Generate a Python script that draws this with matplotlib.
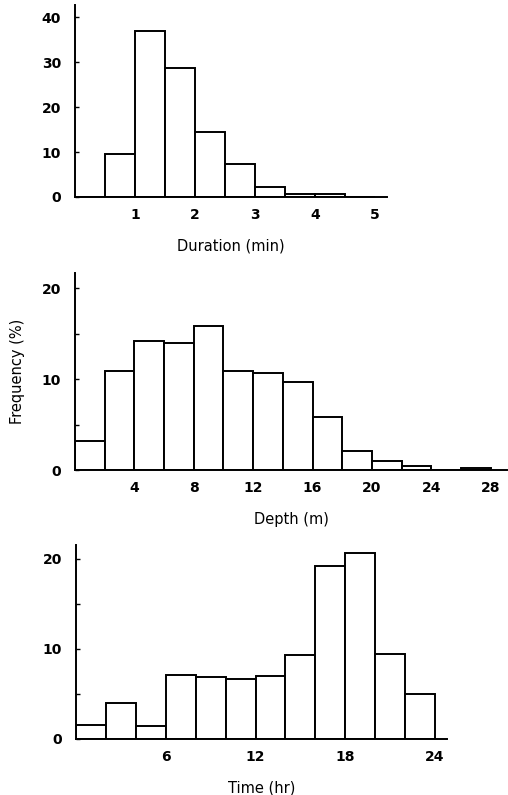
import matplotlib
matplotlib.use("Agg")
import matplotlib.pyplot as plt
import numpy as np

plt.rcParams['font.family'] = ['DejaVu Sans']

# Duration (min), bins of 0.5 min
dur_edges = [0, 0.5, 1.0, 1.5, 2.0, 2.5, 3.0, 3.5, 4.0, 4.5, 5.0]
dur_freq = [0, 9.6, 37.0, 28.7, 14.4, 7.3, 2.3, 0.6, 0.6, 0.1]
dur_ticks = [1, 2, 3, 4, 5]
dur_yticks = [0, 10, 20, 30, 40]

# Depth (m), bins of 2 m
dep_edges = [0, 2, 4, 6, 8, 10, 12, 14, 16, 18, 20, 22, 24, 26, 28]
dep_freq = [3.2, 10.9, 14.2, 14.0, 15.9, 10.9, 10.7, 9.7, 5.8, 2.1, 1.0, 0.4, 0.0, 0.25]
dep_ticks = [4, 8, 12, 16, 20, 24, 28]
dep_yticks = [0, 10, 20]

# Time (hr), bins of 2 hr
time_edges = [0, 2, 4, 6, 8, 10, 12, 14, 16, 18, 20, 22, 24]
time_freq = [1.5, 4.0, 1.4, 7.1, 6.9, 6.6, 7.0, 9.3, 19.2, 20.6, 9.4, 5.0]
time_ticks = [6, 12, 18, 24]
time_yticks = [0, 10, 20]

W, H = 508, 795
fig = plt.figure(figsize=(W / 100, H / 100), dpi=100)

TICK_FS = 10
LAB_FS = 10.5


def make_ax(l, r, t, b):
    return fig.add_axes([l / W, 1 - b / H, (r - l) / W, (b - t) / H])


def draw(ax, edges, freq, xlim, ylim, xticks, yticks, yminor, xlabel):
    e = np.array(edges, dtype=float)
    f = np.array(freq, dtype=float)
    n = len(f)
    ax.bar(e[:n], f, width=np.diff(e)[:n], align='edge',
           facecolor='white', edgecolor='black', linewidth=1.4)
    ax.set_xlim(*xlim)
    ax.set_ylim(*ylim)
    for s in ['top', 'right']:
        ax.spines[s].set_visible(False)
    for s in ['left', 'bottom']:
        ax.spines[s].set_linewidth(1.4)
    ax.set_xticks(xticks)
    ax.set_yticks(yticks)
    if yminor:
        ax.set_yticks(yminor, minor=True)
    ax.tick_params(axis='y', which='both', direction='in', length=3, width=1,
                   labelsize=TICK_FS, pad=10)
    ax.tick_params(axis='x', length=0, labelsize=TICK_FS, pad=8)
    for lab in ax.get_xticklabels() + ax.get_yticklabels():
        lab.set_fontweight('bold')
    ax.set_xlabel(xlabel, fontsize=LAB_FS, labelpad=12)


ax1 = make_ax(75, 387, 5, 197)
draw(ax1, dur_edges, dur_freq, (0, 5.2), (0, 42.7), dur_ticks, dur_yticks, None,
     'Duration (min)')

ax2 = make_ax(75, 507, 273, 470)
draw(ax2, dep_edges, dep_freq, (0, 29.1), (0, 21.7), dep_ticks, dep_yticks, [5, 15],
     'Depth (m)')
ax2.set_ylabel('Frequency (%)', fontsize=LAB_FS, labelpad=12)

ax3 = make_ax(76, 447, 545, 739)
draw(ax3, time_edges, time_freq, (0, 24.8), (0, 21.5), time_ticks, time_yticks, [5, 15],
     'Time (hr)')

fig.savefig('out.png', dpi=100)
